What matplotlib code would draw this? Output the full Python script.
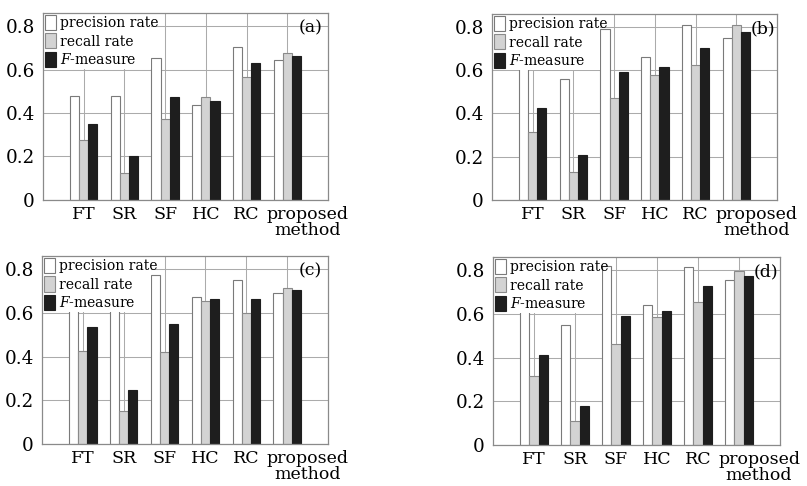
import numpy as np
import matplotlib
matplotlib.use("Agg")
import matplotlib.pyplot as plt
from matplotlib.patches import Patch, Rectangle
from matplotlib.transforms import ScaledTranslation, blended_transform_factory

plt.rcParams["font.family"] = "DejaVu Serif"
plt.rcParams["mathtext.fontset"] = "dejavuserif"

# Data
categories = ["FT", "SR", "SF", "HC", "RC", "proposed\nmethod"]
series_names = ["precision rate", "recall rate", "$F$-measure"]
panel_labels = ["(a)", "(b)", "(c)", "(d)"]
yticks = [0, 0.2, 0.4, 0.6, 0.8]
ytick_labels = ["0", "0.2", "0.4", "0.6", "0.8"]

prec_a = [0.477, 0.480, 0.652, 0.437, 0.705, 0.643]
rec_a = [0.277, 0.126, 0.373, 0.474, 0.564, 0.678]
f_a = [0.350, 0.203, 0.472, 0.457, 0.628, 0.660]

prec_b = [0.70, 0.559, 0.792, 0.661, 0.808, 0.749]
rec_b = [0.314, 0.128, 0.471, 0.576, 0.622, 0.808]
f_b = [0.423, 0.208, 0.590, 0.615, 0.703, 0.777]

prec_c = [0.70, 0.70, 0.775, 0.671, 0.752, 0.691]
rec_c = [0.425, 0.152, 0.421, 0.656, 0.598, 0.716]
f_c = [0.536, 0.245, 0.547, 0.664, 0.664, 0.705]

prec_d = [0.70, 0.549, 0.818, 0.642, 0.812, 0.753]
rec_d = [0.314, 0.109, 0.463, 0.587, 0.656, 0.794]
f_d = [0.413, 0.180, 0.590, 0.615, 0.727, 0.774]

panels = [
    (prec_a, rec_a, f_a),
    (prec_b, rec_b, f_b),
    (prec_c, rec_c, f_c),
    (prec_d, rec_d, f_d),
]

# axes rectangles in figure fractions (left, bottom, width, height)
rects = [
    [0.0533, 0.5885, 0.3532, 0.3848],
    [0.6097, 0.5885, 0.3532, 0.3828],
    [0.0520, 0.0864, 0.3545, 0.3868],
    [0.6109, 0.0844, 0.3557, 0.3868],
]
label_x = [0.98, 0.995, 0.98, 0.995]

colors = ["white", "#d3d3d3", "#1e1e1e"]
edges = ["#7a7a7a", "#8a8a8a", "#1e1e1e"]
w = 0.225

fig = plt.figure(figsize=(8.07, 4.86), dpi=100)
x = np.arange(len(categories))

for i, (vals, rect) in enumerate(zip(panels, rects)):
    ax = fig.add_axes(rect)
    for k, v in enumerate(vals):
        ax.bar(x + (k - 1) * w, v, w, color=colors[k], edgecolor=edges[k],
               linewidth=0.8, zorder=3)
    ax.set_xlim(-1, 6)
    ax.set_ylim(0, 0.86)
    ax.set_yticks(yticks)
    ax.set_yticklabels(ytick_labels)
    ax.set_xticks(x)
    ax.set_xticklabels(categories, linespacing=0.95)
    ax.tick_params(axis="both", length=0, labelsize=12.5)
    ax.tick_params(axis="x", pad=4)
    ax.tick_params(axis="y", pad=6, labelsize=13.2)
    ax.set_axisbelow(True)
    ax.grid(True, color="#ababab", linewidth=0.75)
    for sp in ax.spines.values():
        sp.set_color("#8a8a8a")
        sp.set_linewidth(0.9)
        sp.set_zorder(5)

    # the last label sits a bit to the right of its group
    lbl = ax.get_xticklabels()[-1]
    lbl.set_transform(lbl.get_transform() +
                      ScaledTranslation(0.2, 0, fig.dpi_scale_trans))

    handles = [Patch(facecolor=colors[k], edgecolor=edges[k], linewidth=0.8)
               for k in range(3)]
    leg = ax.legend(handles, series_names, loc="upper left",
                    bbox_to_anchor=(0, 1), borderaxespad=0, borderpad=0.15,
                    frameon=False, fontsize=10, handlelength=0.8,
                    handleheight=1.3, handletextpad=0.3, labelspacing=0.22)
    leg.set_zorder(6)

    # white backing behind the legend, stopping before the SF group
    fig.canvas.draw()
    bb = leg.get_window_extent().transformed(ax.transAxes.inverted())
    trans = blended_transform_factory(ax.transData, ax.transAxes)
    x_stop = x[2] - 1.5 * w
    ax.add_patch(Rectangle((-1, bb.y0), x_stop + 1, 1 - bb.y0,
                           transform=trans, facecolor="white",
                           edgecolor="none", zorder=4))

    ax.text(label_x[i], 0.92, panel_labels[i], transform=ax.transAxes,
            ha="right", va="center", fontsize=12.5, zorder=7)

fig.savefig("out.png", dpi=100)
